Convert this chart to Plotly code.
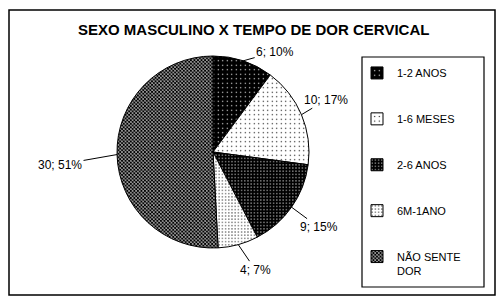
import math
import plotly.graph_objects as go

# Pain duration among male respondents
categorias = ["1-2 ANOS", "1-6 MESES", "2-6 ANOS", "6M-1ANO", "NÃO SENTE DOR"]
legenda = ["<br>1-2 ANOS<br> ", "<br>1-6 MESES<br> ", "<br>2-6 ANOS<br> ",
           "<br>6M-1ANO<br> ", "<br>NÃO SENTE<br>DOR"]
valores = [6, 10, 9, 4, 30]

W, H = 501, 301
FONT = "Liberation Sans, Arial, sans-serif"

# pie placement in pixels
cx, cy, r = 213, 152, 96

fills = [
    dict(shape=".", bgcolor="black", fgcolor="white", size=4.5, solidity=0.06),
    dict(shape=".", bgcolor="white", fgcolor="black", size=4.5, solidity=0.06),
    dict(shape=".", bgcolor="black", fgcolor="white", size=3.2, solidity=0.12),
    dict(shape=".", bgcolor="white", fgcolor="black", size=3.2, solidity=0.12),
    dict(shape="x", bgcolor="white", fgcolor="black", size=2.5, solidity=0.7),
]

fig = go.Figure(go.Pie(
    labels=legenda,
    values=valores,
    sort=False,
    direction="clockwise",
    rotation=0,
    textinfo="none",
    hoverinfo="label+value+percent",
    marker=dict(colors=["black", "white", "black", "white", "#888"],
                line=dict(color="black", width=1),
                pattern=dict(shape=[f["shape"] for f in fills],
                             bgcolor=[f["bgcolor"] for f in fills],
                             fgcolor=[f["fgcolor"] for f in fills],
                             size=[f["size"] for f in fills],
                             solidity=[f["solidity"] for f in fills],
                             fillmode="replace")),
    domain=dict(x=[(cx - r) / W, (cx + r) / W],
                y=[1 - (cy + r) / H, 1 - (cy - r) / H]),
))

# value; percent labels with leader lines to the slice rims
offsets = [(32, -9), (25, -15), (27, 20), (17, 25), (-57, 10)]
total = sum(valores)
acc = 0
annotations = []
for v, (ax, ay) in zip(valores, offsets):
    mid = (acc + v / 2) / total * 2 * math.pi
    acc += v
    px = cx + r * math.sin(mid)
    py = cy - r * math.cos(mid)
    pct = round(100 * v / total)
    annotations.append(dict(
        x=px / W, y=1 - py / H, xref="paper", yref="paper",
        text=f"{v}; {pct}%", showarrow=True, arrowhead=0, arrowwidth=1,
        arrowcolor="black", ax=ax, ay=ay,
        font=dict(family=FONT, size=12, color="black"),
    ))

annotations.append(dict(
    x=253 / W, y=1 - 19 / H, xref="paper", yref="paper", showarrow=False,
    text="<b>SEXO MASCULINO X TEMPO DE DOR CERVICAL</b>",
    font=dict(family=FONT, size=15, color="black"),
))

fig.update_layout(
    width=W, height=H,
    margin=dict(l=0, r=0, t=0, b=0),
    paper_bgcolor="white",
    plot_bgcolor="white",
    annotations=annotations,
    shapes=[
        # outer chart frame
        dict(type="rect", xref="paper", yref="paper",
             x0=9 / W, x1=495 / W, y0=1 - 295 / H, y1=1 - 10 / H,
             line=dict(color="black", width=1.5)),
        # legend box
        dict(type="rect", xref="paper", yref="paper",
             x0=362 / W, x1=484 / W, y0=1 - 287 / H, y1=1 - 57 / H,
             line=dict(color="black", width=1.2)),
    ],
    legend=dict(x=357 / W, y=1 - 45 / H, xanchor="left", yanchor="top",
                borderwidth=0, bgcolor="rgba(0,0,0,0)",
                font=dict(family=FONT, size=11, color="black"),
                valign="middle", itemwidth=30),
    showlegend=True,
)

fig.write_html("out.html")
